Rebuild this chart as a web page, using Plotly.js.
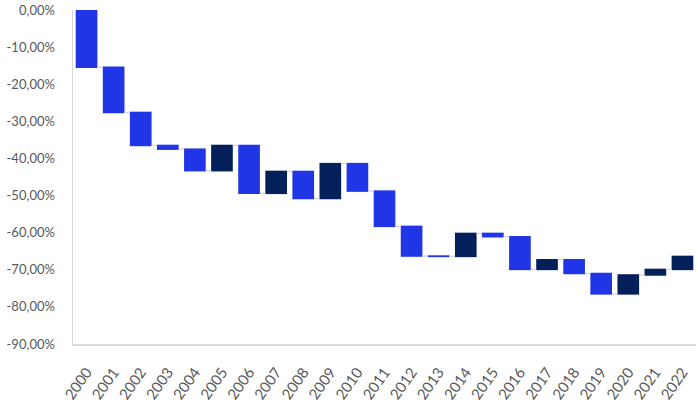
<!DOCTYPE html>
<html>
<head>
<meta charset="utf-8">
<script src="https://cdn.plot.ly/plotly-3.0.1.min.js"></script>
<style>html,body{margin:0;padding:0;background:#fff;}#chart{width:696px;height:417px;}</style>
</head>
<body>
<div id="chart"></div>
<script>
const years = ["2000","2001","2002","2003","2004","2005","2006","2007","2008","2009","2010","2011","2012","2013","2014","2015","2016","2017","2018","2019","2020","2021","2022"];
const changes = [-15.4,-12.2,-8.9,-1.0,-5.8,6.8,-12.9,5.9,-7.3,9.4,-7.4,-9.5,-8.0,-0.1,6.2,-0.9,-8.8,2.6,-3.7,-5.5,5.1,1.5,3.5];
const tickValues = [0,-10,-20,-30,-40,-50,-60,-70,-80,-90];
const tickLabels = ["0,00%","-10,00%","-20,00%","-30,00%","-40,00%","-50,00%","-60,00%","-70,00%","-80,00%","-90,00%"];

const trace = {
  type: 'waterfall',
  x: years,
  y: changes,
  measure: years.map(() => 'relative'),
  decreasing: {marker: {color: '#1F35E6', line: {width: 0}}},
  increasing: {marker: {color: '#04205A', line: {width: 0}}},
  connector: {mode: 'between', line: {color: '#D9D9D9', width: 1.5}},
  hoverinfo: 'none',
  textinfo: 'none'
};

const layout = {
  width: 696, height: 417,
  margin: {l: 73, r: 0, t: 10, b: 73},
  paper_bgcolor: '#fff', plot_bgcolor: '#fff',
  showlegend: false,
  bargap: 0.34,
  font: {family: 'Lato, "Open Sans", sans-serif', size: 13, color: '#595959'},
  xaxis: {
    type: 'category',
    tickangle: -55,
    showline: true, linecolor: '#D9D9D9', linewidth: 1.5,
    showgrid: false, zeroline: false, ticks: '',
    ticklabelstandoff: 12,
    tickfont: {size: 15, color: '#595959'}
  },
  yaxis: {
    range: [-90, 0],
    tickvals: tickValues,
    ticktext: tickLabels,
    showline: true, linecolor: '#D9D9D9', linewidth: 1.5,
    showgrid: false, zeroline: false, ticks: '',
    ticklabelstandoff: 14,
    tickfont: {size: 13, color: '#595959'}
  }
};

Plotly.newPlot('chart', [trace], layout, {staticPlot: true, displayModeBar: false});
</script>
</body>
</html>
